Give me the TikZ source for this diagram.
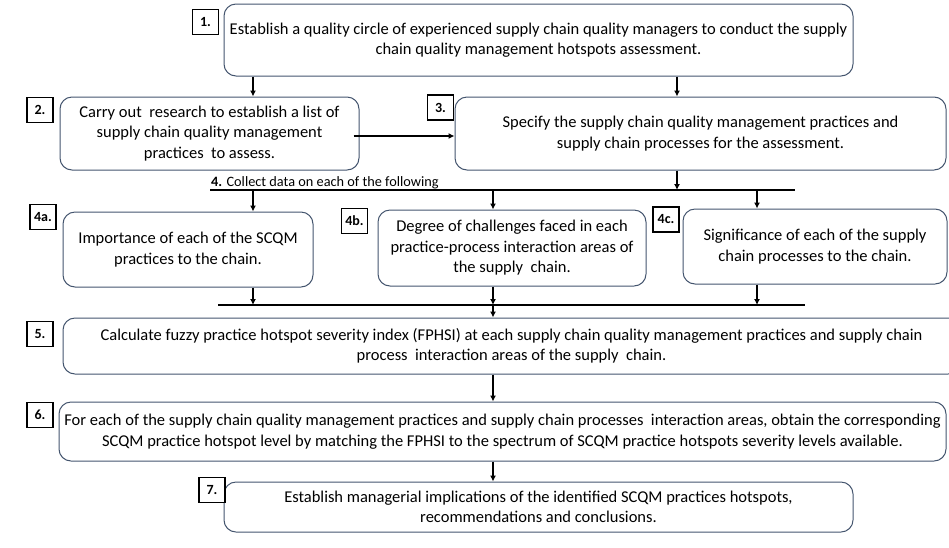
\documentclass[tikz,border=0pt]{standalone}
\usepackage{fontspec}
\setmainfont{Carlito}
\usepackage{xcolor}
\usepackage{tikz}
\usetikzlibrary{positioning,calc,arrows.meta}

\definecolor{boxline}{HTML}{44556E}

\tikzset{
    stepbox/.style={draw=boxline, line width=1pt, rounded corners=12pt, align=center,
        inner sep=0pt, font=\fontsize{16.5}{20.5}\selectfont},
    numbox/.style={draw, fill=white, line width=1.3pt, inner sep=2pt,
        minimum width=26pt, minimum height=25pt, font=\bfseries\fontsize{14}{16}\selectfont},
    arr/.style={line width=1.8pt, -{Latex[length=6pt,width=6pt]}},
    bus/.style={line width=1.5pt}
}

\begin{document}
\begin{tikzpicture}[x=1pt,y=-1pt]
    \useasboundingbox (0,0) rectangle (949,547);

    % Steps 1-3
    \node[stepbox, minimum width=629pt, minimum height=72pt] (s1) at (538.5,40)
        {Establish a quality circle of experienced supply chain quality managers to conduct the supply\\
         chain quality management hotspots assessment.};
    \node[stepbox, minimum width=299pt, minimum height=73pt] (s2) at (209.5,133.5)
        {Carry out\ \ research to establish a list of\\ supply chain quality management\\ practices\ \ to assess.};
    \node[stepbox, minimum width=491pt, minimum height=73pt] (s3) at (700.5,133.5)
        {Specify the supply chain quality management practices and\\ supply chain processes for the assessment.};

    % Step 4 and its parts
    \node[anchor=base west, inner sep=0pt, font=\fontsize{14.3}{16}\selectfont] (collect) at (211,186)
        {\textbf{4.} Collect data on each of the following};
    \node[stepbox, minimum width=250pt, minimum height=75pt] (s4a) at (188,249.5)
        {Importance of each of the SCQM\\ practices to the chain.};
    \node[stepbox, minimum width=268pt, minimum height=76pt] (s4b) at (512,248)
        {Degree of challenges faced in each\\ practice-process interaction areas of\\ the supply\ \ chain.};
    \node[stepbox, minimum width=264pt, minimum height=75pt] (s4c) at (815,246.5)
        {Significance of each of the supply\\ chain processes to the chain.};

    % Steps 5-7
    \node[stepbox, minimum width=897pt, minimum height=56pt] (s5) at (511.5,346)
        {Calculate fuzzy practice hotspot severity index (FPHSI) at each supply chain quality management practices and supply chain\\
         process\ \ interaction areas of the supply\ \ chain.};
    \node[stepbox, minimum width=887pt, minimum height=59pt] (s6) at (502.5,431.5)
        {For each of the supply chain quality management practices and supply chain processes\ \ interaction areas, obtain the corresponding\\
         SCQM practice hotspot level by matching the FPHSI to the spectrum of SCQM practice hotspots severity levels available.};
    \node[stepbox, minimum width=629pt, minimum height=50pt] (s7) at (538.5,507)
        {Establish managerial implications of the identified SCQM practices hotspots,\\ recommendations and conclusions.};

    % Number tags
    \node[numbox] (n1) at (205.5,22) {1.};
    \node[numbox] (n2) at (40,110) {2.};
    \node[numbox] (n3) at (440.5,107.5) {3.};
    \node[numbox] (n4a) at (43,217) {4a.};
    \node[numbox] (n4b) at (354.5,221) {4b.};
    \node[numbox] (n4c) at (666,219.5) {4c.};
    \node[numbox] (n5) at (40,334) {5.};
    \node[numbox] (n6) at (40,415) {6.};
    \node[numbox] (n7) at (212,490) {7.};

    % Guides and bus lines
    \coordinate (xa) at (253,0);
    \coordinate (xb) at (493,0);
    \coordinate (xc) at (757,0);
    \coordinate (xd) at (677,0);
    \coordinate (b1w) at (210,190);
    \coordinate (b1e) at (795,190);
    \coordinate (b2w) at (218,305);
    \coordinate (b2e) at (805,305);
    \draw[bus] (b1w) -- (b1e);
    \draw[bus] (b2w) -- (b2e);

    % Arrows
    \draw[arr] (s1.south -| xa) -- (s2.north -| xa);
    \draw[arr] (s1.south -| xd) -- (s3.north -| xd);
    \draw[arr] ([xshift=-6pt,yshift=-2.5pt]s2.east) -- ([yshift=-2.5pt]s3.west);
    \draw[arr] (s3.south -| xd) -- (b1w -| xd);
    \foreach \x/\n in {xa/s4a, xb/s4b, xc/s4c} {
        \draw[arr] (b1w -| \x) -- (\n.north -| \x);
        \draw[arr] (\n.south -| \x) -- (b2w -| \x);
    }
    \draw[arr] (b2w -| xb) -- (s5.north -| xb);
    \draw[arr] (s5.south -| xb) -- (s6.north -| xb);
    \draw[arr] (s6.south -| xb) -- (s7.north -| xb);
\end{tikzpicture}
\end{document}
